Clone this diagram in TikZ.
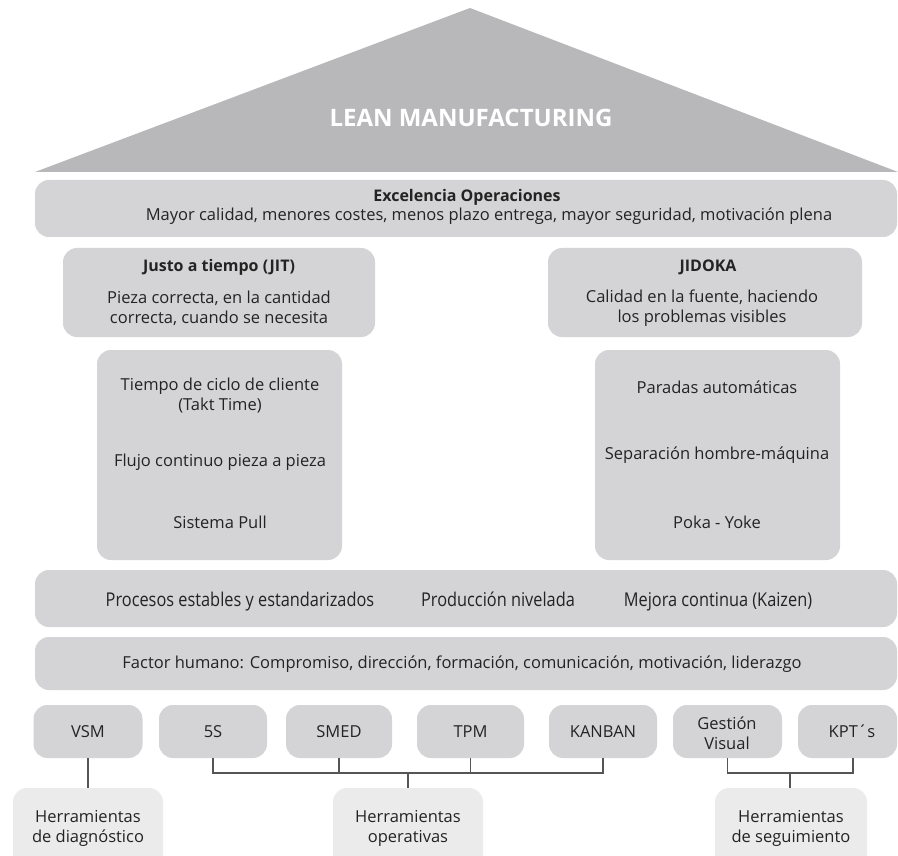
\documentclass[tikz,border=0pt]{standalone}
\usepackage{fontspec}
\setmainfont{Open Sans}
\definecolor{boxgray}{RGB}{212,212,214}
\definecolor{roofgray}{RGB}{184,184,186}
\definecolor{labgray}{RGB}{235,235,235}
\definecolor{txtcol}{RGB}{35,35,35}
\definecolor{linecol}{RGB}{85,85,85}
\begin{document}
\begin{tikzpicture}[x=1pt,y=-1pt,
  box/.style={fill=boxgray, rounded corners=14pt, inner sep=0pt, outer sep=0pt},
  labbox/.style={fill=labgray, rounded corners=14pt, inner sep=0pt, outer sep=0pt},
  txt/.style={font=\fontsize{16.5}{20}\selectfont, text=txtcol, inner sep=0pt, align=center},
  ttl/.style={txt, font=\fontsize{16}{20}\selectfont\bfseries},
  cond/.style={txt, font=\fontsize{19}{22}\selectfont, anchor=base},
  conn/.style={draw=linecol, line width=1.4pt}]
\useasboundingbox (0,0) rectangle (898,856);
\clip (0,0) rectangle (898,856);
\fill[white] (0,0) rectangle (898,856);
% roof
\fill[roofgray] (470,8) -- (898,172) -- (35,172) -- cycle;
\node[font=\fontsize{24}{28}\selectfont\bfseries, text=white, inner sep=0pt] (lean) at (471,118) {LEAN MANUFACTURING};
% excelencia
\node[box, minimum width=862pt, minimum height=57pt] (exc) at (466,208.5) {};
\node[ttl] (excT) at (467,197) {Excelencia Operaciones};
\node[txt] (excS) at (489,216) {Mayor calidad, menores costes, menos plazo entrega, mayor seguridad, motivación plena};
% pillars top
\node[box, minimum width=312pt, minimum height=89pt] (jit) at (219,292.5) {};
\node[ttl] (jitT) at (219,267) {Justo a tiempo (JIT)};
\node[txt] (jitS) at (219,308) {Pieza correcta, en la cantidad\\correcta, cuando se necesita};
\node[box, minimum width=314pt, minimum height=89pt] (jid) at (705,292.5) {};
\node[ttl] (jidT) at (708,267) {JIDOKA};
\node[txt] (jidS) at (702,308) {Calidad en la fuente, haciendo\\los problemas visibles};
% pillar lists
\node[box, minimum width=245pt, minimum height=210pt] (jitl) at (219.5,455) {};
\node[txt] (t1) at (220,396) {Tiempo de ciclo de cliente\\(Takt Time)};
\node[txt] (t2) at (220,462) {Flujo continuo pieza a pieza};
\node[txt] (t3) at (220,522) {Sistema Pull};
\node[box, minimum width=245pt, minimum height=210pt] (jidl) at (717.5,455) {};
\node[txt] (d1) at (717,387) {Paradas automáticas};
\node[txt] (d2) at (717,455) {Separación hombre-máquina};
\node[txt] (d3) at (717,522) {Poka - Yoke};
% base bands
\node[box, minimum width=862pt, minimum height=57pt] (proc) at (466,598.5) {};
\node[cond] (p1) at (240,606) {\scalebox{0.86}[1]{Procesos estables y estandarizados}};
\node[cond] (p2) at (498,606) {\scalebox{0.86}[1]{Producción nivelada}};
\node[cond] (p3) at (718,606) {\scalebox{0.86}[1]{Mejora continua (Kaizen)}};
\node[box, minimum width=862pt, minimum height=53pt] (fac) at (466,663.5) {};
\node[txt] (facT) at (462,664) {Factor humano: Compromiso, dirección, formación, comunicación, motivación, liderazgo};
% tools
\node[box, minimum width=109pt, minimum height=53pt] (vsm) at (88,731.5) {};
\node[txt] at (vsm) {VSM};
\node[box, minimum width=108pt, minimum height=53pt] (s5) at (213,731.5) {};
\node[txt] at (s5) {5S};
\node[box, minimum width=106pt, minimum height=53pt] (smed) at (339,731.5) {};
\node[txt] at (smed) {SMED};
\node[box, minimum width=107pt, minimum height=53pt] (tpm) at (470.5,731.5) {};
\node[txt] at (tpm) {TPM};
\node[box, minimum width=108pt, minimum height=53pt] (kanban) at (603,731.5) {};
\node[txt] at (kanban) {KANBAN};
\node[box, minimum width=109pt, minimum height=53pt] (gest) at (727.5,731.5) {};
\node[txt] at (727,733) {Gestión\\Visual};
\node[box, minimum width=99pt, minimum height=53pt] (kpt) at (847.5,731.5) {};
\node[txt] at (852,731.5) {KPT´s};
% labels
\node[labbox, minimum width=150pt, minimum height=84pt] (diag) at (88,830) {};
\node[txt] at (88,828) {Herramientas\\de diagnóstico};
\node[labbox, minimum width=150pt, minimum height=84pt] (oper) at (408,830) {};
\node[txt] at (408,828) {Herramientas\\operativas};
\node[labbox, minimum width=152pt, minimum height=84pt] (segu) at (791,830) {};
\node[txt] at (791,828) {Herramientas\\de seguimiento};
% connectors
\coordinate (opj) at (408,773);
\coordinate (sej) at (790,773);
\draw[conn] (vsm.south) -- (diag.north);
\draw[conn] (s5.south) |- (opj) -| (kanban.south);
\draw[conn] (smed.south) -- (smed.south |- opj);
\draw[conn] (tpm.south) -- (tpm.south |- opj);
\draw[conn] (opj) -- (oper.north);
\draw[conn] (gest.south) |- (sej) -| ([xshift=5.5pt]kpt.south);
\draw[conn] (sej) -- (segu.north -| sej);
\end{tikzpicture}
\end{document}
